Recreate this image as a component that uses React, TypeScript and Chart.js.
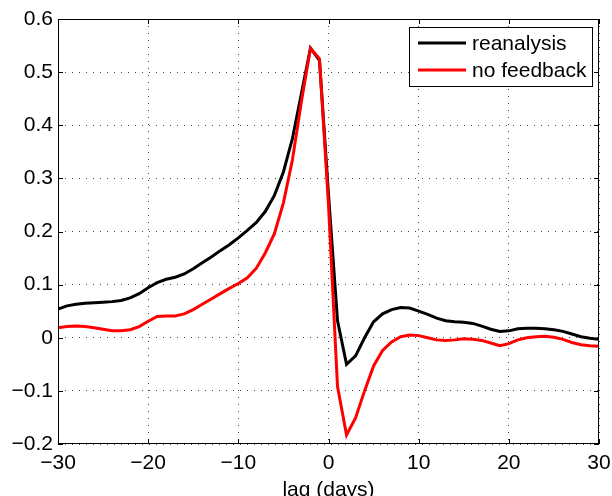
import React, { useEffect, useRef } from "react";
import { Chart, registerables } from "chart.js";

Chart.register(...registerables);

const lags: number[] = [
  -30, -29, -28, -27, -26, -25, -24, -23, -22, -21, -20, -19, -18, -17, -16, -15, -14, -13, -12, -11,
  -10, -9, -8, -7, -6, -5, -4, -3, -2, -1, 0, 1, 2, 3, 4, 5, 6, 7, 8, 9,
  10, 11, 12, 13, 14, 15, 16, 17, 18, 19, 20, 21, 22, 23, 24, 25, 26, 27, 28, 29, 30,
];

const reanalysis: number[] = [
  0.054, 0.06, 0.063, 0.065, 0.066, 0.067, 0.068, 0.07, 0.075, 0.083, 0.094, 0.104, 0.11, 0.114, 0.12,
  0.13, 0.141, 0.152, 0.164, 0.175, 0.188, 0.202, 0.217, 0.238, 0.268, 0.312, 0.375, 0.46, 0.545, 0.522,
  0.27, 0.032, -0.05, -0.034, 0.0, 0.03, 0.045, 0.053, 0.057, 0.056, 0.05, 0.044, 0.037, 0.032, 0.03,
  0.029, 0.027, 0.022, 0.016, 0.012, 0.013, 0.017, 0.018, 0.018, 0.017, 0.015, 0.012, 0.007, 0.002,
  -0.001, -0.003,
];

const noFeedback: number[] = [
  0.019, 0.021, 0.022, 0.021, 0.019, 0.016, 0.013, 0.013, 0.015, 0.021, 0.031, 0.04, 0.041, 0.041, 0.045,
  0.053, 0.063, 0.073, 0.083, 0.093, 0.102, 0.113, 0.131, 0.16, 0.196, 0.254, 0.335, 0.445, 0.545, 0.525,
  0.25, -0.092, -0.183, -0.151, -0.1, -0.053, -0.024, -0.008, 0.002, 0.005, 0.004, 0.0, -0.004, -0.005,
  -0.004, -0.002, -0.003, -0.005, -0.01, -0.015, -0.011, -0.004, 0.0, 0.002, 0.003, 0.001, -0.003,
  -0.009, -0.013, -0.015, -0.016,
];

const seriesNames: string[] = ["reanalysis", "no feedback"];
const seriesColors: string[] = ["#000000", "#ff0000"];
const xTicks: number[] = [-30, -20, -10, 0, 10, 20, 30];
const yTicks: number[] = [-0.2, -0.1, 0, 0.1, 0.2, 0.3, 0.4, 0.5, 0.6];
const xTitle = "lag (days)";

const FONT = "'Liberation Sans', Arial, Helvetica, sans-serif";
const FS = 21;

const fmt = (v: number): string => {
  const r = Math.round(v * 10) / 10;
  if (r === 0) return "0";
  const s = Math.abs(r).toString();
  return r < 0 ? "\u2212" + s : s;
};

const boxPlugin = {
  id: "matlabBox",
  afterDraw(chart: any) {
    const { ctx, chartArea, scales } = chart;
    const { left, right, top, bottom } = chartArea;
    ctx.save();
    ctx.strokeStyle = "#000";
    ctx.lineWidth = 1;
    ctx.setLineDash([]);
    ctx.strokeRect(left + 0.5, top + 0.5, right - left - 1, bottom - top - 1);
    const tl = 5;
    ctx.beginPath();
    for (const v of xTicks) {
      const px = Math.round(scales.x.getPixelForValue(v)) + 0.5;
      ctx.moveTo(px, bottom);
      ctx.lineTo(px, bottom - tl);
      ctx.moveTo(px, top);
      ctx.lineTo(px, top + tl);
    }
    for (const v of yTicks) {
      const py = Math.round(scales.y.getPixelForValue(v)) + 0.5;
      ctx.moveTo(left, py);
      ctx.lineTo(left + tl, py);
      ctx.moveTo(right, py);
      ctx.lineTo(right - tl, py);
    }
    ctx.stroke();

    // legend
    const lx = 409, ly = 27, lw = 183, lh = 59;
    ctx.fillStyle = "#fff";
    ctx.fillRect(lx, ly, lw, lh);
    ctx.strokeStyle = "#000";
    ctx.lineWidth = 1;
    ctx.strokeRect(lx + 0.5, ly + 0.5, lw, lh);
    const rows = [43, 70];
    ctx.font = `${FS}px ${FONT}`;
    ctx.textBaseline = "middle";
    ctx.textAlign = "left";
    seriesNames.forEach((name, i) => {
      ctx.strokeStyle = seriesColors[i];
      ctx.lineWidth = 3;
      ctx.beginPath();
      ctx.moveTo(418, rows[i]);
      ctx.lineTo(466, rows[i]);
      ctx.stroke();
      ctx.fillStyle = "#000";
      ctx.fillText(name, 472, rows[i] + 1);
    });
    ctx.restore();
  },
};

export default function App() {
  const ref = useRef<HTMLCanvasElement | null>(null);
  useEffect(() => {
    document.body.style.margin = "0";
    const canvas = ref.current;
    if (!canvas) return;
    const chart = new Chart(canvas, {
      type: "line",
      data: {
        datasets: [
          {
            label: seriesNames[0],
            data: lags.map((x, i) => ({ x, y: reanalysis[i] })),
            borderColor: seriesColors[0],
            borderWidth: 3,
            pointRadius: 0,
            tension: 0,
            fill: false,
            order: 1,
          },
          {
            label: seriesNames[1],
            data: lags.map((x, i) => ({ x, y: noFeedback[i] })),
            borderColor: seriesColors[1],
            borderWidth: 3,
            pointRadius: 0,
            tension: 0,
            fill: false,
            order: 0,
          },
        ],
      },
      options: {
        animation: false,
        responsive: false,
        devicePixelRatio: 1,
        layout: { padding: { left: 0, right: 13, top: 19, bottom: 0 } },
        plugins: { legend: { display: false }, tooltip: { enabled: false } },
        scales: {
          x: {
            type: "linear",
            min: -30,
            max: 30,
            afterBuildTicks: (s: any) => {
              s.ticks = xTicks.map((v) => ({ value: v }));
            },
            afterFit: (s: any) => {
              s.height = 52;
            },
            ticks: {
              autoSkip: false,
              maxRotation: 0,
              padding: 0,
              color: "#000",
              font: { family: FONT, size: FS, lineHeight: 1.83 },
              callback: (v: any) => fmt(Number(v)),
            },
            grid: { color: "#444", lineWidth: 1, drawTicks: false },
            border: { display: false, dash: [1, 6] },
            title: {
              display: true,
              text: xTitle,
              color: "#000",
              font: { family: FONT, size: FS, lineHeight: 1.2 },
              padding: { top: 0, bottom: -7 },
            },
          },
          y: {
            type: "linear",
            min: -0.2,
            max: 0.6,
            afterBuildTicks: (s: any) => {
              s.ticks = yTicks.map((v) => ({ value: v }));
            },
            afterFit: (s: any) => {
              s.width = 58;
            },
            ticks: {
              autoSkip: false,
              padding: 5,
              color: "#000",
              font: { family: FONT, size: FS },
              callback: (v: any) => fmt(Number(v)),
            },
            grid: { color: "#444", lineWidth: 1, drawTicks: false },
            border: { display: false, dash: [1, 6] },
          },
        },
      },
      plugins: [boxPlugin],
    });
    return () => chart.destroy();
  }, []);
  return (
    <div style={{ position: "absolute", left: 0, top: 0, width: 612, height: 496, background: "#fff" }}>
      <canvas ref={ref} width={612} height={496} style={{ width: 612, height: 496, display: "block" }} />
    </div>
  );
}
